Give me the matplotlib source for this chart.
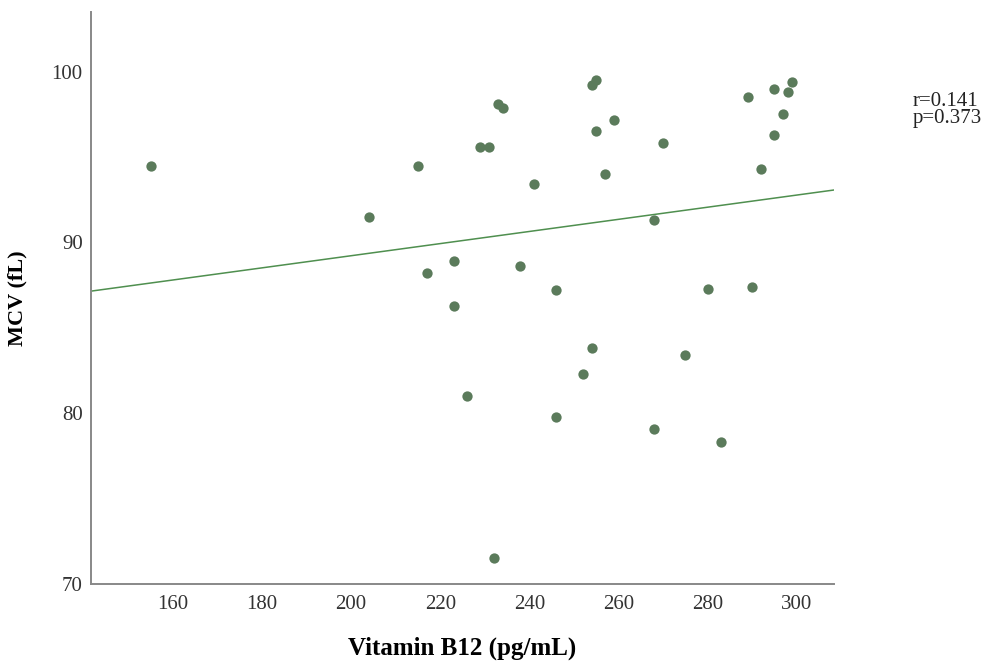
import matplotlib
matplotlib.use("Agg")
import matplotlib.pyplot as plt
import numpy as np

vitamin_b12 = [155, 215, 204, 229, 231, 233, 234, 217, 223, 223,
               254, 255, 259, 255, 270, 257, 241, 289, 295, 299,
               298, 297, 295, 292, 268, 238, 246, 280, 290, 226,
               232, 254, 275, 252, 246, 268, 283]
mcv = [94.5, 94.5, 91.5, 95.6, 95.6, 98.1, 97.9, 88.2, 88.9, 86.3,
       99.2, 99.5, 97.2, 96.5, 95.8, 94.0, 93.4, 98.5, 99.0, 99.4,
       98.8, 97.5, 96.3, 94.3, 91.3, 88.6, 87.2, 87.3, 87.4, 81.0,
       71.5, 83.8, 83.4, 82.3, 79.8, 79.1, 78.3]
x_ticks = [160, 180, 200, 220, 240, 260, 280, 300]
y_ticks = [70, 80, 90, 100]
stats_text = "r=0.141\np=0.373"

plt.rcParams['font.family'] = ['Liberation Serif', 'DejaVu Serif']

fig = plt.figure(figsize=(9.87, 6.62), dpi=100)
ax = fig.add_axes([0.0922, 0.1178, 0.845 - 0.0922, 0.982 - 0.1178])

x = np.array(vitamin_b12, dtype=float)
y = np.array(mcv, dtype=float)
ax.scatter(x, y, s=55, color='#5b7b5b', zorder=3, linewidths=0)

xlim = (141.6, 308.4)
slope, intercept = np.polyfit(x, y, 1)
xl = np.array(xlim)
ax.plot(xl, intercept + slope * xl, color='#4f8f4f', lw=1.1, zorder=2)

ax.set_xlim(*xlim)
ax.set_ylim(70, 103.5)
ax.set_xticks(x_ticks)
ax.set_yticks(y_ticks)
ax.tick_params(length=0, labelsize=15, colors='#333333')
ax.tick_params(axis='y', pad=6)
ax.tick_params(axis='x', pad=8)

for s in ['top', 'right']:
    ax.spines[s].set_visible(False)
for s in ['left', 'bottom']:
    ax.spines[s].set_color('#888888')
    ax.spines[s].set_linewidth(1.4)

ax.set_xlabel('Vitamin B12 (pg/mL)', fontsize=18, fontweight='bold')
ax.set_ylabel('MCV (fL)', fontsize=16, fontweight='bold')
ax.xaxis.set_label_coords(0.5, -0.0927)
ax.yaxis.set_label_coords(-0.085, 0.5)

fig.text(0.925, 0.834, stats_text, fontsize=15, ha='left', va='center',
         linespacing=0.88, color='#222222')

fig.savefig('out.png', dpi=100, facecolor='white')
